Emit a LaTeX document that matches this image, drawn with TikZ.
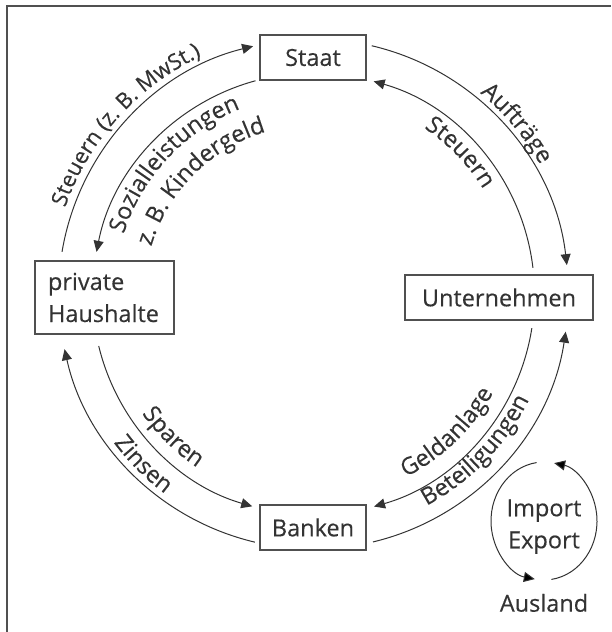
\documentclass[tikz,border=0pt]{standalone}
\usepackage{fontspec}
\setmainfont[FakeBold=0.3]{Open Sans}
\usetikzlibrary{arrows.meta,decorations.text}
\newcommand\lbl{\fontsize{23.5}{32}\selectfont}
\newcommand\lblsmall{\fontsize{22}{30}\selectfont}
\definecolor{ink}{HTML}{333333}
\definecolor{edge}{HTML}{505050}
\begin{document}
\begin{tikzpicture}[x=1pt,y=1pt,
  box/.style={draw=edge, line width=1.3pt, text=ink, font=\lbl, minimum height=45pt, inner sep=0pt},
  flow/.style={draw=ink, line width=1pt, -{Triangle[length=11pt,width=10pt]}},
  lab/.style={decorate, decoration={text along path, text align=center, text color=ink}}
]
\useasboundingbox (0,0) rectangle (611,632);
\draw[edge, line width=2pt] (6.5,0) -- (6.5,625.5) -- (611,625.5);
\coordinate (c) at (313.5,338);

% nodes
\node[box, minimum width=106pt] (staat) at (313,574.5) {Staat};
\node[box, minimum width=188pt] (untern) at (499,334.5) {Unternehmen};
\node[box, minimum width=139pt, minimum height=73pt, text width=113pt, inner xsep=13pt, align=left] (haus) at (104.5,334.5) {private\\Haushalte};
\node[box, minimum width=106pt] (banken) at (313,104.5) {Banken};

% outer arcs
\draw[flow] ([shift={(170.5:255)}]c) arc[start angle=170.5, end angle=103.7, radius=255];
\draw[flow] ([shift={(76.8:255)}]c) arc[start angle=76.8, end angle=6.5, radius=255];
\draw[flow] ([shift={(-76.5:255)}]c) arc[start angle=-76.5, end angle=-8.5, radius=255];
\draw[flow] ([shift={(-103.3:255)}]c) arc[start angle=-103.3, end angle=-167.5, radius=255];
% inner arcs
\draw[flow] ([shift={(105.2:221)}]c) arc[start angle=105.2, end angle=169, radius=221];
\draw[flow] ([shift={(6.8:221)}]c) arc[start angle=6.8, end angle=74.2, radius=221];
\draw[flow] ([shift={(-8.9:221)}]c) arc[start angle=-8.9, end angle=-74.1, radius=221];
\draw[flow] ([shift={(-166.4:221)}]c) arc[start angle=-166.4, end angle=-106.1, radius=221];

% labels along arcs
\path[lab, decoration={text={|\lblsmall|Steuern (z. B. MwSt.)}}] ([shift={(184:263)}]c) arc[start angle=184, end angle=92, radius=263];
\path[lab, decoration={text={|\lbl|Sozialleistungen}}] ([shift={(182:199)}]c) arc[start angle=182, end angle=92, radius=199];
\path[lab, decoration={text={|\lbl|z. B. Kindergeld}}] ([shift={(180:169)}]c) arc[start angle=180, end angle=90, radius=169];
\path[lab, decoration={text={|\lbl|Aufträge}}] ([shift={(80:261)}]c) arc[start angle=80, end angle=0, radius=261];
\path[lab, decoration={text={|\lbl|Steuern}}] ([shift={(84:199.5)}]c) arc[start angle=84, end angle=4, radius=199.5];
\path[lab, decoration={text={|\lbl|Sparen}}] ([shift={(-175:209)}]c) arc[start angle=-175, end angle=-94, radius=209];
\path[lab, decoration={text={|\lbl|Zinsen}}] ([shift={(-175:249)}]c) arc[start angle=-175, end angle=-95, radius=249];
\path[lab, decoration={text={|\lbl|Geldanlage}}] ([shift={(-91:205)}]c) arc[start angle=-91, end angle=-1, radius=205];
\path[lab, decoration={text={|\lbl|Beteiligungen}}] ([shift={(-89:240)}]c) arc[start angle=-89, end angle=1, radius=240];

% Ausland cycle
\coordinate (iec) at (544,111);
\node[text=ink, font=\lbl, align=center, inner sep=0pt] (ie) at (544,105.3) {Import\\Export};
\node[text=ink, font=\lbl, anchor=base, inner sep=0pt] (ausland) at (544,20.3) {Ausland};
\draw[flow] ([shift={(98:53 and 59)}]iec) arc[start angle=98, end angle=260, x radius=53, y radius=59];
\draw[flow] ([shift={(-82:53 and 59)}]iec) arc[start angle=-82, end angle=79, x radius=53, y radius=59];
\end{tikzpicture}
\end{document}
